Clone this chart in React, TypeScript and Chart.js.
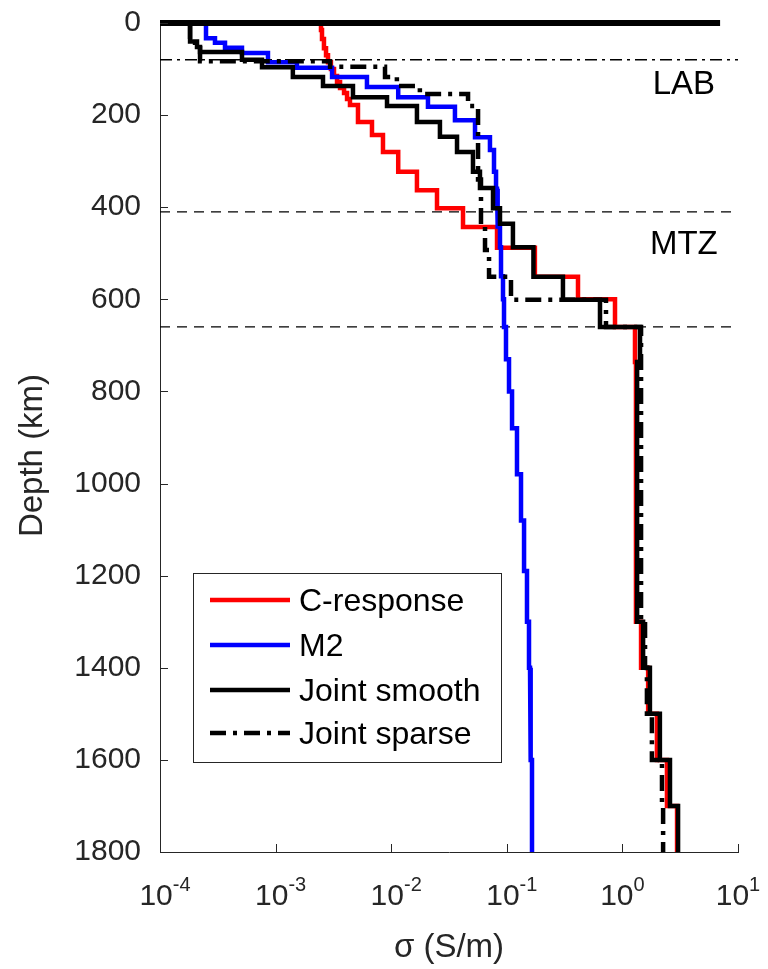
import React, { useEffect, useRef } from 'react';
import { Chart, registerables } from 'chart.js';

Chart.register(...registerables);

const FONT = '"Liberation Sans", Arial, Helvetica, sans-serif';
const INK = '#262626';

// Layer tops (km) and layer conductivities (S/m) for each model
const cResponseTops = [0, 15, 35, 55, 70, 85, 100, 115, 128, 141, 152, 165, 178, 215, 243, 280, 323, 363, 402, 443, 488, 551, 600, 660, 736, 1300, 1400, 1500, 1600, 1700];
const cResponseSigma = [2.47e-3, 2.52e-3, 2.62e-3, 2.73e-3, 2.84e-3, 3.01e-3, 3.2e-3, 3.4e-3, 3.61e-3, 3.91e-3, 4.15e-3, 4.4e-3, 5.16e-3, 6.82e-3, 8.49e-3, 1.15e-2, 1.67e-2, 2.49e-2, 4.18e-2, 8.23e-2, 0.175, 0.413, 0.863, 1.285, 1.31, 1.45, 1.67, 1.99, 2.43, 2.97];

const m2Tops = [0, 33, 43, 54, 65, 85, 97, 117, 139, 161, 182, 211, 248, 276, 323, 360, 402, 442, 487, 550, 600, 660, 730, 800, 880, 980, 1080, 1190, 1300, 1400, 1500, 1600];
const m2Sigma = [2.5e-4, 2.99e-4, 3.65e-4, 5.12e-4, 8.59e-4, 1.53e-3, 3.08e-3, 6.17e-3, 1.15e-2, 2.08e-2, 3.56e-2, 5.31e-2, 7.15e-2, 7.75e-2, 8.07e-2, 8.23e-2, 8.39e-2, 8.73e-2, 8.91e-2, 9.27e-2, 9.46e-2, 9.84e-2, 0.1045, 0.111, 0.1225, 0.1327, 0.141, 0.1495, 0.1556, 0.1588, 0.1619, 0.1652];

const smoothTops = [0, 40, 52, 63, 80, 96, 117, 137, 161, 180, 215, 247, 280, 323, 358, 402, 436, 487, 551, 601, 660, 736, 1300, 1400, 1500, 1600, 1700];
const smoothSigma = [1.82e-4, 2.09e-4, 2.22e-4, 5.12e-4, 7.63e-4, 1.41e-3, 2.57e-3, 4.67e-3, 9.2e-3, 1.67e-2, 2.64e-2, 3.71e-2, 5.1e-2, 5.86e-2, 7.6e-2, 8.73e-2, 0.113, 0.17, 0.306, 0.64, 1.42, 1.34, 1.51, 1.73, 2.11, 2.58, 3.03];

const sparseTops = [0, 43, 55, 83, 95, 117, 137, 154, 180, 340, 443, 493, 551, 601, 660, 1300, 1400, 1500, 1600, 1700];
const sparseSigma = [1.82e-4, 2.01e-4, 2.22e-4, 2.96e-3, 8.84e-3, 1.12e-2, 1.77e-2, 4.62e-2, 5.64e-2, 5.98e-2, 6.48e-2, 7.02e-2, 0.1087, 0.721, 1.45, 1.57, 1.63, 1.8, 2.2, 2.25];

const maxDepth = 1800;
const depthTicks = [0, 200, 400, 600, 800, 1000, 1200, 1400, 1600, 1800];
const sigmaTickExponents = [-4, -3, -2, -1, 0, 1];
const surfaceSigma = [1e-4, 7];
const labDepth = 80;
const mtzDepths = [410, 660];
const annotationTexts = ['LAB', 'MTZ'];
const annotationDepths = [135, 482];
const annotationSigma = 3.4;
const legendLabels = ['C-response', 'M2', 'Joint smooth', 'Joint sparse'];

function layersToSteps(tops: number[], sigma: number[], bottom: number) {
  const pts: { x: number; y: number }[] = [];
  for (let i = 0; i < tops.length; i++) {
    const base = i + 1 < tops.length ? tops[i + 1] : bottom;
    pts.push({ x: sigma[i], y: tops[i] }, { x: sigma[i], y: base });
  }
  return pts;
}

const overlayPlugin = {
  id: 'overlay',
  afterDraw(chart: any) {
    const { ctx, chartArea, scales } = chart;
    const xs = scales.x;
    const ys = scales.y;
    ctx.save();
    // inner tick marks
    ctx.strokeStyle = INK;
    ctx.lineWidth = 1;
    ctx.beginPath();
    sigmaTickExponents.forEach((e) => {
      const px = Math.round(xs.getPixelForValue(Math.pow(10, e))) + 0.5;
      ctx.moveTo(px, chartArea.bottom);
      ctx.lineTo(px, chartArea.bottom - 8);
    });
    depthTicks.forEach((d) => {
      const py = Math.round(ys.getPixelForValue(d)) + 0.5;
      ctx.moveTo(chartArea.left, py);
      ctx.lineTo(chartArea.left + 8, py);
    });
    ctx.stroke();

    // x tick labels with superscripts
    ctx.fillStyle = INK;
    ctx.textBaseline = 'alphabetic';
    ctx.textAlign = 'left';
    const base = chartArea.bottom + 53;
    sigmaTickExponents.forEach((e) => {
      const px = xs.getPixelForValue(Math.pow(10, e));
      ctx.font = `30px ${FONT}`;
      const w10 = ctx.measureText('10').width;
      ctx.font = `20px ${FONT}`;
      const expStr = String(e);
      const wExp = ctx.measureText(expStr).width;
      const start = px - (w10 + wExp) / 2 + (e < 0 ? 5 : 0);
      ctx.font = `30px ${FONT}`;
      ctx.fillText('10', start, base);
      ctx.font = `20px ${FONT}`;
      ctx.fillText(expStr, start + w10, base - 14);
    });

    // axis titles
    ctx.font = `33px ${FONT}`;
    ctx.textAlign = 'center';
    ctx.fillText('σ (S/m)', (chartArea.left + chartArea.right) / 2, chartArea.bottom + 105);
    ctx.save();
    ctx.translate(33, (chartArea.top + chartArea.bottom) / 2 + 18);
    ctx.rotate(-Math.PI / 2);
    ctx.textBaseline = 'middle';
    ctx.fillText('Depth (km)', 0, 0);
    ctx.restore();

    // annotations
    ctx.fillStyle = '#000';
    ctx.textBaseline = 'middle';
    ctx.font = `33px ${FONT}`;
    annotationTexts.forEach((t, i) => {
      ctx.fillText(t, xs.getPixelForValue(annotationSigma), ys.getPixelForValue(annotationDepths[i]));
    });

    // legend
    const bx = 193.5, by = 573.5, bw = 308, bh = 189;
    ctx.fillStyle = '#fff';
    ctx.fillRect(bx, by, bw, bh);
    ctx.strokeStyle = INK;
    ctx.lineWidth = 1;
    ctx.setLineDash([]);
    ctx.strokeRect(bx, by, bw, bh);
    const rows = [600, 645, 690, 733];
    legendLabels.forEach((lbl, i) => {
      const ds = chart.data.datasets[i];
      ctx.beginPath();
      ctx.strokeStyle = ds.borderColor;
      ctx.lineWidth = ds.borderWidth;
      ctx.setLineDash(ds.borderDash || []);
      ctx.moveTo(210, rows[i]);
      ctx.lineTo(290, rows[i]);
      ctx.stroke();
      ctx.setLineDash([]);
      ctx.fillStyle = '#000';
      ctx.textAlign = 'left';
      ctx.textBaseline = 'middle';
      ctx.font = `32px ${FONT}`;
      ctx.fillText(lbl, 299, rows[i] + 2);
    });
    ctx.restore();
  },
};

export default function App() {
  const canvasRef = useRef<HTMLCanvasElement | null>(null);

  useEffect(() => {
    const canvas = canvasRef.current;
    if (!canvas) return;
    const line = (label: string, data: any[], color: string, width: number, order: number, dash?: number[], clip?: any) => ({
      label,
      data,
      borderColor: color,
      backgroundColor: color,
      borderWidth: width,
      borderDash: dash || [],
      showLine: true,
      pointRadius: 0,
      pointHoverRadius: 0,
      fill: false,
      tension: 0,
      order,
      borderJoinStyle: 'miter' as const,
      ...(clip !== undefined ? { clip } : {}),
    });
    const chart = new Chart(canvas, {
      type: 'scatter',
      data: {
        datasets: [
          line(legendLabels[0], layersToSteps(cResponseTops, cResponseSigma, maxDepth), '#ff0000', 4.5, 4),
          line(legendLabels[1], layersToSteps(m2Tops, m2Sigma, maxDepth), '#0000ff', 4.5, 3),
          line(legendLabels[2], layersToSteps(smoothTops, smoothSigma, maxDepth), '#000000', 4.5, 2),
          line(legendLabels[3], layersToSteps(sparseTops, sparseSigma, maxDepth), '#000000', 4.5, 1, [16, 7, 4, 7]),
          line('surface', surfaceSigma.map((s) => ({ x: s, y: 0 })), '#000000', 6, 0, [], false),
          line('LAB', [{ x: 1e-4, y: labDepth }, { x: 10, y: labDepth }], '#000000', 1.5, 6, [12, 5, 3, 5]),
          line('410', [{ x: 1e-4, y: mtzDepths[0] }, { x: 10, y: mtzDepths[0] }], '#000000', 1.3, 6, [10, 7]),
          line('660', [{ x: 1e-4, y: mtzDepths[1] }, { x: 10, y: mtzDepths[1] }], '#000000', 1.3, 6, [10, 7]),
        ],
      },
      options: {
        animation: false,
        responsive: false,
        events: [],
        layout: { padding: { top: 23, right: 30, left: 0, bottom: 0 } },
        plugins: { legend: { display: false }, tooltip: { enabled: false } },
        scales: {
          x: {
            type: 'logarithmic',
            min: 1e-4,
            max: 10,
            grid: { display: false, drawTicks: false },
            border: { display: true, color: INK, width: 1 },
            ticks: { display: false },
            afterFit: (s: any) => {
              s.height = 117;
              s.paddingLeft = 0;
              s.paddingRight = 0;
            },
          },
          y: {
            type: 'linear',
            reverse: true,
            min: 0,
            max: maxDepth,
            grid: { display: false, drawTicks: false },
            border: { display: true, color: INK, width: 1 },
            afterBuildTicks: (s: any) => {
              s.ticks = depthTicks.map((v) => ({ value: v }));
            },
            ticks: {
              color: INK,
              padding: 19,
              font: { family: FONT, size: 30 },
              callback: (v: any) => String(v),
            },
            afterFit: (s: any) => {
              s.width = 160;
              s.paddingTop = 0;
              s.paddingBottom = 0;
            },
          },
        },
      },
      plugins: [overlayPlugin],
    });
    return () => chart.destroy();
  }, []);

  return (
    <div style={{ position: 'absolute', left: 0, top: 0, width: 768, height: 969, background: '#fff' }}>
      <canvas ref={canvasRef} width={768} height={969} style={{ display: 'block' }} />
    </div>
  );
}
